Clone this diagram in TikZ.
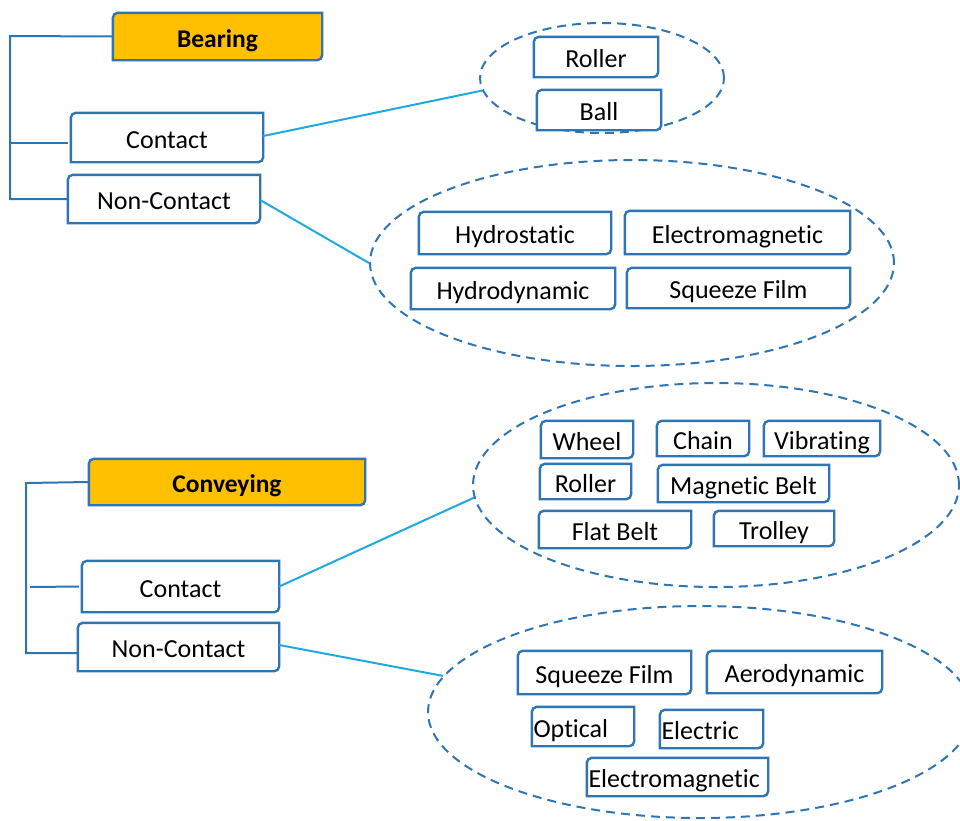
\documentclass[tikz,border=0pt]{standalone}
\usepackage{fontspec}
\setmainfont[Ligatures=NoCommon]{Carlito}
\usetikzlibrary{shapes.geometric}
\definecolor{boxblue}{RGB}{46,117,182}
\definecolor{linkblue}{RGB}{32,168,224}
\definecolor{gold}{RGB}{255,192,0}
\tikzset{
  box/.style={fill=white, draw=none, inner sep=0pt, text height=21pt, text depth=0pt,
    font=\fontsize{26}{29}\selectfont},
  headbox/.style={box, fill=gold, font=\fontsize{25.5}{29}\selectfont\bfseries},
  leftbox/.style={box, align=left},
  group/.style={ellipse, draw=boxblue, line width=2pt, dash pattern=on 9pt off 6pt, inner sep=0pt},
  tree/.style={draw=boxblue, line width=2pt},
  link/.style={draw=linkblue, line width=2pt},
  outline/.style={draw=boxblue, line width=2.4pt}
}
\begin{document}
\begin{tikzpicture}[x=1pt,y=-1pt]
\useasboundingbox (0,0) rectangle (960,820);
\clip (0,0) rectangle (960,820);

% dashed groupings
\node[group, minimum width=244pt, minimum height=110pt] (g1) at (602,78) {};
\node[group, minimum width=524pt, minimum height=206pt] (g2) at (632,263) {};
\node[group, minimum width=486pt, minimum height=204pt] (g3) at (716,485) {};
\node[group, minimum width=544pt, minimum height=212pt] (g4) at (700,712) {};

% Bearing tree
\node[headbox, minimum width=209pt, minimum height=47pt] (bear) at (217.5,36.5) {Bearing};
\node[box, minimum width=192pt, minimum height=49pt] (bc) at (167,137.5) {Contact};
\node[box, minimum width=192pt, minimum height=48pt] (bn) at (164,199) {Non-Contact};
\node[box, minimum width=124pt, minimum height=40pt] (broller) at (596,57) {Roller};
\node[box, minimum width=124pt, minimum height=40pt] (bball) at (599,110) {Ball};
\node[box, minimum width=192pt, minimum height=42pt] (bhs) at (515,233) {Hydrostatic};
\node[box, minimum width=225pt, minimum height=43pt] (bem) at (737.5,232.5) {Electromagnetic};
\node[box, minimum width=204pt, minimum height=41pt] (bhd) at (513,288.5) {Hydrodynamic};
\node[box, minimum width=223pt, minimum height=40pt] (bsq) at (738.5,288) {Squeeze Film};

% Conveying tree
\node[headbox, minimum width=276pt, minimum height=46pt] (conv) at (227,482) {Conveying};
\node[box, minimum width=197pt, minimum height=51pt] (cc) at (180.5,586.5) {Contact};
\node[box, minimum width=201pt, minimum height=48pt] (cn) at (178.5,647) {Non-Contact};
\node[box, minimum width=92pt, minimum height=37pt] (cwheel) at (587,439.5) {Wheel};
\node[box, minimum width=92pt, minimum height=35pt] (cchain) at (703,438.5) {Chain};
\node[box, minimum width=116pt, minimum height=35pt] (cvib) at (822,438.5) {Vibrating};
\node[box, minimum width=91pt, minimum height=35pt] (croller) at (585.5,481.5) {Roller};
\node[box, minimum width=171pt, minimum height=37pt] (cmag) at (743.5,483.5) {Magnetic Belt};
\node[box, minimum width=152pt, minimum height=37pt] (cflat) at (615,529.5) {Flat Belt};
\node[box, minimum width=120pt, minimum height=35pt] (ctrol) at (774,528.5) {Trolley};
\node[box, minimum width=173pt, minimum height=43pt] (csq) at (604.5,672.5) {Squeeze Film};
\node[box, minimum width=175pt, minimum height=42pt] (caero) at (794.5,672) {Aerodynamic};
\node[leftbox, text width=99pt, minimum height=39pt, inner xsep=1.5pt] (copt) at (583,726.5) {Optical};
\node[leftbox, text width=100pt, minimum height=38pt, inner xsep=1.5pt] (celec) at (711.5,729) {Electric};
\node[leftbox, text width=178pt, minimum height=38pt, inner xsep=1.5pt] (cem) at (677.5,777) {Electromagnetic};

% box outlines: rounded top-left and bottom-right corners
\foreach \n in {bear,bc,bn,broller,bball,bhs,bem,bhd,bsq,conv,cc,cn,cwheel,cchain,cvib,croller,cmag,cflat,ctrol,csq,caero,copt,celec,cem}
  \draw[outline] (\n.south west) -- ([yshift=-5pt]\n.north west)
    arc[start angle=180, end angle=90, radius=5pt] -- (\n.north east)
    -- ([yshift=5pt]\n.south east)
    arc[start angle=0, end angle=-90, radius=5pt] -- cycle;

% tree connectors
\coordinate (bt) at (10,36);
\coordinate (bb) at (10,199);
\draw[tree] (bear.west) -- (bt) -- (bb) -- (bn.west);
\draw[tree] (10,143) -- ([xshift=-3pt]bc.west |- 0,143);
\coordinate (ct) at (26,483);
\coordinate (cb) at (26,653);
\draw[tree] (conv.west) -- (ct) -- (cb) -- (cn.west |- cb);
\draw[tree] (30,587) -- ([xshift=-3pt]cc.west);

% links to groupings
\draw[link] (bc.east |- 0,136) -- (g1.186);
\draw[link] (bn.east |- 0,200) -- (g2.west);
\draw[link] (cc.east) -- (g3.183);
\draw[link] (cn.east |- 0,645) -- (g4.172);
\end{tikzpicture}
\end{document}
